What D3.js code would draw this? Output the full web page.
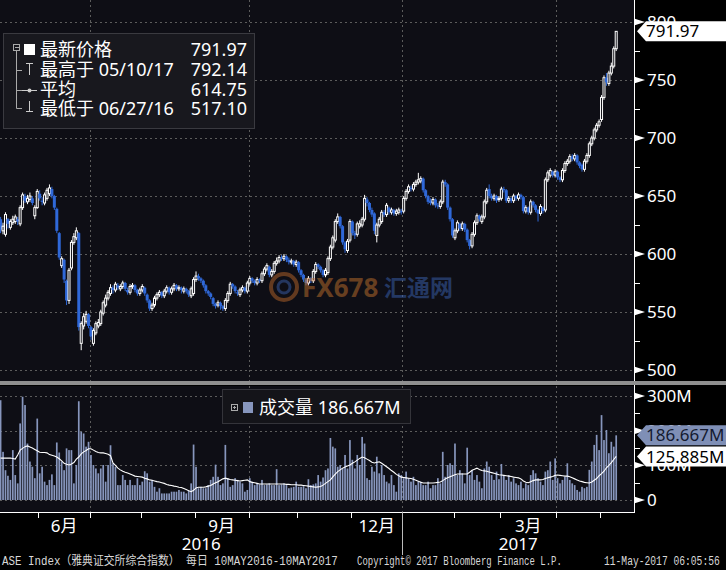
<!DOCTYPE html>
<html><head><meta charset="utf-8">
<script src="https://cdn.jsdelivr.net/npm/d3@7"></script>
<style>html,body{margin:0;padding:0;background:#000;}svg{display:block}</style>
</head><body><svg id="c" width="726" height="570"></svg>
<script>
// ---------- DATA ----------
const holidays = ["2016-06-20","2016-08-15","2016-10-28","2016-12-26","2017-01-06","2017-02-27","2017-04-14","2017-04-17","2017-05-01"];
const openP = [630,620,617,630,623,627,628,630,626,640,650,645,647,648,633,640,652,646,644,648,652,656,650,639,618,590,595,577,560,588,610,614,618,523,538,542,548,537,523,532,538,540,549,556,562,566,571,569,573,570,572,575,569,567,572,573,569,566,569,571,565,560,553,556,562,565,567,564,568,571,567,570,573,570,571,568,570,568,564,566,578,581,579,577,573,568,566,562,557,556,558,555,553,560,566,574,572,567,565,569,571,568,575,579,577,575,578,577,583,587,589,582,585,592,594,597,596,598,595,593,594,591,593,586,582,578,575,579,577,585,591,589,586,582,584,596,606,612,628,632,624,610,603,612,628,618,617,624,625,630,647,644,638,635,616,625,628,636,634,640,636,638,635,636,637,637,648,654,657,656,660,662,663,665,655,650,646,644,647,642,641,645,662,660,640,630,614,620,626,622,626,621,612,607,617,627,633,628,632,645,656,650,648,650,647,648,656,655,646,648,646,650,648,651,649,637,640,636,645,642,638,635,640,638,664,668,671,668,671,666,664,672,678,680,684,682,685,679,677,673,680,685,695,700,707,711,716,735,752,747,756,762,777];
const highP = [632,627,636,631,630,633,634,632,642,653,652,651,653,650,642,656,655,649,653,657,660,658,651,640,619,598,596,578,588,612,618,623,619,542,549,551,549,538,536,542,544,552,560,565,569,574,573,576,575,574,577,576,571,574,575,574,570,571,574,572,566,561,558,564,567,569,568,570,573,572,572,575,574,573,572,572,571,569,572,580,585,583,580,578,574,569,567,563,558,560,559,556,562,568,576,575,573,569,571,573,572,577,581,580,578,580,579,585,589,592,590,587,594,597,599,599,600,599,597,596,595,595,594,587,583,579,581,580,587,593,592,590,587,588,598,608,616,630,635,633,625,611,613,630,629,620,628,629,632,651,649,645,640,636,627,632,638,638,644,641,640,639,639,640,639,650,656,660,659,662,664,670,667,666,656,651,648,649,648,644,647,664,664,661,641,631,622,629,627,628,627,622,613,619,629,635,634,634,647,657,660,652,652,651,650,658,658,656,650,649,652,651,653,652,650,642,641,647,646,643,639,643,641,666,672,674,672,673,672,667,674,680,682,686,686,687,686,680,678,682,687,697,702,709,713,716,737,754,756,758,765,779,792.14];
const lowP = [618,617,615,622,621,625,626,625,624,638,644,643,645,642,630,639,646,642,642,646,650,648,638,618,595,588,575,556,557,586,608,612,534,517.1,535,540,536,526,521,530,536,538,547,554,560,564,566,567,569,568,570,568,565,565,570,567,564,564,567,564,558,551,551,554,560,563,562,562,566,565,565,568,568,568,566,566,566,563,562,564,576,577,575,571,566,564,561,555,553,554,552,551,551,558,564,570,566,564,563,567,566,566,573,575,573,573,575,575,581,585,580,580,583,590,592,594,594,593,591,591,589,589,584,580,576,573,573,575,575,583,587,584,580,580,582,594,604,610,626,622,608,601,601,610,616,613,615,622,623,628,641,636,632,617,610,623,626,632,632,634,634,633,633,634,634,635,646,652,654,654,658,660,661,653,648,643,642,642,640,639,639,643,658,638,628,614,612,618,620,620,619,610,604,605,615,625,628,626,630,643,648,646,646,644,645,646,653,644,644,644,644,646,646,647,635,635,634,634,640,636,628,633,635,636,662,666,666,666,664,662,662,670,676,678,680,680,677,674,671,671,678,683,693,698,705,709,714,733,745,745,754,760,775];
const closeP = [621,624,634,626,628,630,632,628,640,651,646,648,650,644,640,654,648,645,651,655,657,650,640,620,597,596,578,560,586,610,615,620,537,540,546,548,538,529,534,540,541,550,558,562,567,571,569,574,571,572,575,570,567,572,573,569,566,569,572,566,560,553,556,562,565,567,564,568,571,567,570,573,570,571,569,570,568,565,570,578,581,579,577,573,568,566,563,557,555,558,555,553,560,566,574,572,568,566,569,571,568,575,579,577,575,578,577,583,587,590,582,585,592,594,597,596,598,595,593,594,591,593,586,582,578,575,579,577,585,591,589,586,582,586,596,606,614,628,632,624,610,604,611,628,618,616,626,626,630,648,644,638,634,620,625,630,636,634,642,636,638,635,637,638,636,648,654,658,656,660,662,664,665,655,650,645,644,647,642,641,645,662,660,640,630,616,620,627,622,626,621,612,607,617,627,633,630,632,645,655,650,648,650,646,648,656,655,646,648,646,650,648,651,649,637,640,636,645,642,638,635,641,637,664,670,672,668,671,666,664,672,678,680,684,682,685,679,676,673,680,685,695,700,707,711,714,735,752,748,756,762,777,791.97];
const volume = [288,139,86,70,58,144,72,48,221,298,274,163,111,96,63,235,77,96,53,43,58,74,43,166,137,111,86,149,144,144,48,101,285,197,192,154,168,130,101,91,77,91,101,53,101,158,106,96,43,43,72,58,43,58,43,43,63,43,53,83,77,53,58,38,24,34,19,19,19,19,24,24,24,29,24,24,19,27,48,160,96,34,38,34,34,43,58,67,102,67,43,48,159,63,38,43,63,58,53,48,24,29,63,53,43,48,45,58,43,45,48,43,43,89,43,45,48,43,34,36,38,53,38,38,40,34,60,43,45,48,72,53,65,86,91,179,154,149,96,101,91,130,91,173,116,91,130,101,182,163,63,58,96,82,125,77,101,72,53,48,72,43,24,77,72,63,82,63,53,67,43,53,53,43,43,53,34,43,43,63,48,139,67,101,106,101,163,72,86,77,48,151,72,86,58,72,53,34,91,111,96,72,58,82,60,104,72,58,72,53,63,48,43,53,34,48,43,72,86,77,63,53,43,82,86,111,58,120,63,48,58,67,106,58,48,43,29,24,38,34,38,87,111,159,188,144,245,173,202,135,168,154,186.667];
const volumeMA = [121,121,121,121,121,120,118,130,144,149,154,156,153,150,146,142,138,137,137,136,131,129,127,124,119,113,106,103,101,104,108,118,124,133,139,143,148,148,144,140,137,136,136,134,132,128,107,100,92,87,83,80,78,75,72,69,68,67,66,63,61,58,57,55,53,52,50,48,45,43,42,40,39,37,36,33,30,27,24,28,35,37,37,37,38,40,42,46,50,53,57,61,63,61,59,58,57,56,55,56,57,58,53,51,50,48,46,46,46,46,46,46,46,46,46,46,46,45,45,44,44,44,43,43,42,41,40,39,38,37,38,39,43,48,53,58,67,75,82,87,92,95,98,101,106,110,115,120,124,122,118,114,109,107,109,110,106,101,96,91,85,80,74,70,66,65,64,63,62,60,57,54,51,49,49,49,49,49,50,51,52,56,61,64,67,70,73,75,75,75,75,75,80,86,89,92,88,85,84,83,81,79,77,75,73,72,71,70,69,68,66,65,64,61,55,51,50,53,56,58,58,58,59,62,64,66,68,71,72,71,70,69,69,67,64,61,58,55,53,51,50,49,52,57,62,70,76,83,93,100,108,117,125.885];
const priceTicks = [500,550,600,650,700,750,800];
const priceMinor = [525,575,625,675,725,775];
const volTicks = [0,100,200,300];
const volTickLabels = ["0","100M","200M","300M"];
const volMinor = [50,150,250];
const monthLabels = {5:"6月",8:"9月",11:"12月",2:"3月"};
const quarterMonths = [6,9,0,3];
const yearLabels = ["2016","2017"];
const legendLabels = ["最新价格","最高于 05/10/17","平均","最低于 06/27/16"];
const legendValues = ["791.97","792.14","614.75","517.10"];
const volLegendLabel = "成交量 186.667M";
const lastPriceLabel = "791.97", lastVolLabel = "186.667M", lastMALabel = "125.885M";
const footer = ["ASE Index（雅典证交所综合指数） 每日 10MAY2016-10MAY2017","Copyright© 2017 Bloomberg Finance L.P.","11-May-2017 06:05:56"];

// ---------- LAYOUT ----------
const N = closeP.length;
const plotR = 634;
const FONT = "'Noto Sans','Noto Sans CJK SC',sans-serif";
const svg = d3.select("#c");
const hol = new Set(holidays);
const dates = [];
for (let t = Date.UTC(2016,4,10); t <= Date.UTC(2017,4,10); t += 864e5) {
  const d = new Date(t), wd = d.getUTCDay();
  if (wd === 0 || wd === 6) continue;
  if (hol.has(d.toISOString().slice(0,10))) continue;
  dates.push(d);
}
const x = d3.scaleLinear().domain([0, N-1]).range([0.6, 616.2]);
const yP = d3.scaleLinear().domain([491.4, 819]).range([380, 0]);
const yV = d3.scaleLinear().domain([-34.6, 329]).range([512, 386]);

svg.append("rect").attr("width",726).attr("height",570).attr("fill","#000");
svg.append("rect").attr("x",0).attr("y",0).attr("width",plotR).attr("height",381).attr("fill","#0e0e15");
svg.append("rect").attr("x",0).attr("y",386).attr("width",plotR).attr("height",126).attr("fill","#0e0e15");

const defs = svg.append("defs");
defs.append("clipPath").attr("id","cp").append("rect").attr("x",0).attr("y",0).attr("width",plotR).attr("height",381);
defs.append("clipPath").attr("id","cv").append("rect").attr("x",0).attr("y",386).attr("width",plotR).attr("height",126);

// month boundaries
const bounds = [];
for (let i = 1; i < dates.length; i++) if (dates[i].getUTCMonth() !== dates[i-1].getUTCMonth()) bounds.push(i);
const bx = i => x(i - 0.5);

const grid = svg.append("g").attr("stroke","#5c5c5c").attr("stroke-dasharray","2,3").attr("stroke-width",1);
priceTicks.forEach(p => grid.append("line").attr("x1",0).attr("x2",plotR).attr("y1",Math.round(yP(p))+0.5).attr("y2",Math.round(yP(p))+0.5));
volTicks.forEach(v => grid.append("line").attr("x1",0).attr("x2",plotR).attr("y1",Math.round(yV(v))+0.5).attr("y2",Math.round(yV(v))+0.5));
bounds.filter(i => quarterMonths.includes(dates[i].getUTCMonth())).forEach(i => {
  const xx = Math.round(bx(i))+0.5;
  grid.append("line").attr("x1",xx).attr("x2",xx).attr("y1",0).attr("y2",381);
  grid.append("line").attr("x1",xx).attr("x2",xx).attr("y1",386).attr("y2",512);
});

// candles
const idx = d3.range(N);
const cg = svg.append("g").attr("clip-path","url(#cp)");
const UP = "#ffffff", DN = "#2f68d8";
cg.selectAll("line.w").data(idx).join("line")
  .attr("x1", i => x(i)).attr("x2", i => x(i))
  .attr("y1", i => yP(highP[i])).attr("y2", i => yP(lowP[i]))
  .attr("stroke", i => closeP[i] >= openP[i] ? UP : DN).attr("stroke-width",1);
cg.selectAll("rect.b").data(idx).join("rect")
  .attr("x", i => closeP[i] >= openP[i] ? x(i)-1 : x(i)-1.5)
  .attr("width", i => closeP[i] >= openP[i] ? 2 : 3)
  .attr("y", i => yP(Math.max(openP[i], closeP[i])))
  .attr("height", i => Math.max(1, Math.abs(yP(openP[i]) - yP(closeP[i]))))
  .attr("fill", i => closeP[i] >= openP[i] ? "#0e0e15" : DN)
  .attr("stroke", i => closeP[i] >= openP[i] ? UP : "none").attr("stroke-width",1);

// watermark
const wm = svg.append("g").attr("opacity",0.5);
wm.append("circle").attr("cx",284).attr("cy",287).attr("r",13).attr("fill","none").attr("stroke","#b8662a").attr("stroke-width",4);
wm.append("circle").attr("cx",284).attr("cy",287).attr("r",6).attr("fill","none").attr("stroke","#3a5fa8").attr("stroke-width",3);
wm.append("text").attr("x",302).attr("y",297).attr("font-family",FONT).attr("font-weight","bold").attr("font-size",26).attr("fill","#c0702c").text("FX678");
wm.append("text").attr("x",384).attr("y",296).attr("font-family",FONT).attr("font-weight","bold").attr("font-size",23).attr("fill","#3a62b0").text("汇通网");

// volume
const vg = svg.append("g").attr("clip-path","url(#cv)");
vg.selectAll("rect").data(idx).join("rect")
  .attr("x", i => x(i)-0.85).attr("width",1.7)
  .attr("y", i => yV(volume[i])).attr("height", i => yV(0) - yV(volume[i]))
  .attr("fill","#8796bd");
vg.append("path").datum(idx).attr("fill","none").attr("stroke","#fff").attr("stroke-width",1.1)
  .attr("d", d3.line().x(i => x(i)).y(i => yV(volumeMA[i])));

// separator and borders
svg.append("rect").attr("x",0).attr("y",381).attr("width",726).attr("height",4).attr("fill","#8f8f8f");
svg.append("line").attr("x1",plotR+0.5).attr("x2",plotR+0.5).attr("y1",0).attr("y2",381).attr("stroke","#fff");
svg.append("line").attr("x1",plotR+0.5).attr("x2",plotR+0.5).attr("y1",385).attr("y2",513).attr("stroke","#fff");
svg.append("line").attr("x1",0).attr("x2",plotR+1).attr("y1",512.5).attr("y2",512.5).attr("stroke","#fff");

// right axes
const ax = svg.append("g");
function majorTick(y){ ax.append("path").attr("d",`M${plotR},${y-3.5}L${plotR+11},${y}L${plotR},${y+3.5}Z`).attr("fill","#fff"); }
function minorTick(y){ ax.append("line").attr("x1",plotR).attr("x2",plotR+6).attr("y1",Math.round(y)+0.5).attr("y2",Math.round(y)+0.5).attr("stroke","#fff"); }
priceTicks.forEach(p => { const y = yP(p); majorTick(y);
  ax.append("text").attr("x",647).attr("y",y).attr("dy","0.36em").attr("font-family",FONT).attr("font-size",17).attr("fill","#fff").text(p); });
priceMinor.forEach(p => minorTick(yP(p)));
volTicks.forEach((v,k) => { const y = yV(v); majorTick(y);
  ax.append("text").attr("x",647).attr("y",y).attr("dy","0.36em").attr("font-family",FONT).attr("font-size",17).attr("fill","#fff").text(volTickLabels[k]); });
volMinor.forEach(v => minorTick(yV(v)));

function valueBox(y, label, bg, fg){
  const g = svg.append("g");
  g.append("path").attr("d",`M637,${y}L646,${y-10}L726,${y-10}L726,${y+10}L646,${y+10}Z`).attr("fill",bg);
  g.append("text").attr("x",646).attr("y",y).attr("dy","0.36em").attr("font-family",FONT).attr("font-size",17).attr("fill",fg).text(label);
}
valueBox(yP(closeP[N-1]), lastPriceLabel, "#ffffff", "#000");
valueBox(yV(volume[N-1]), lastVolLabel, "#7f8fb6", "#141a30");
valueBox(yV(volumeMA[N-1]), lastMALabel, "#ffffff", "#000");

// x axis
const xa = svg.append("g");
bounds.forEach(i => { const xx = Math.round(bx(i))+0.5;
  xa.append("line").attr("x1",xx).attr("x2",xx).attr("y1",512).attr("y2", dates[i].getUTCMonth()===0 ? 555 : 518).attr("stroke", dates[i].getUTCMonth()===0 ? "#bbb" : "#fff"); });
const bAll = [0, ...bounds, N];
for (let k = 0; k < bAll.length-1; k++) {
  const m = dates[bAll[k]].getUTCMonth();
  if (monthLabels[m] === undefined || k === 0) continue;
  const cx = (bx(bAll[k]) + bx(bAll[k+1])) / 2;
  xa.append("text").attr("x",cx).attr("y",532).attr("text-anchor","middle").attr("font-family",FONT).attr("font-size",17).attr("fill","#fff").text(monthLabels[m]);
}
const janB = bounds.find(i => dates[i].getUTCMonth() === 0);
[[0, bx(janB)], [bx(janB), plotR]].forEach((r,k) =>
  xa.append("text").attr("x",(r[0]+r[1])/2).attr("y",550).attr("text-anchor","middle").attr("font-family",FONT).attr("font-size",17).attr("fill","#fff").text(yearLabels[k]));

// price legend
const lg = svg.append("g");
lg.append("rect").attr("x",3.5).attr("y",33.5).attr("width",251).attr("height",95).attr("fill","#18181e").attr("stroke","#3a3a40");
const rowY = [50,70,90,109];
lg.append("rect").attr("x",13.5).attr("y",44.5).attr("width",6).attr("height",6).attr("fill","none").attr("stroke","#aaa");
lg.append("line").attr("x1",15).attr("x2",19).attr("y1",47.5).attr("y2",47.5).attr("stroke","#aaa");
lg.append("rect").attr("x",24).attr("y",44).attr("width",11).attr("height",11).attr("fill","#fff");
lg.append("path").attr("d","M16.5,51V108.5H22M16.5,70.5H22M16.5,90.5H22").attr("fill","none").attr("stroke","#aaa");
lg.append("path").attr("d","M26,63.5H33M29.5,63V75").attr("stroke","#ccc").attr("fill","none");
lg.append("path").attr("d","M22,90.5H37").attr("stroke","#ccc");
lg.append("circle").attr("cx",29.5).attr("cy",90.5).attr("r",2).attr("fill","#ccc");
lg.append("path").attr("d","M29.5,101V112M26,111.5H33").attr("stroke","#ccc").attr("fill","none");
legendLabels.forEach((t,k) => {
  lg.append("text").attr("x",40).attr("y",rowY[k]).attr("dy","0.36em").attr("font-family",FONT).attr("font-size",18).attr("fill","#fff").text(t);
  lg.append("text").attr("x",247).attr("y",rowY[k]).attr("dy","0.36em").attr("text-anchor","end").attr("font-family",FONT).attr("font-size",18).attr("fill","#fff").text(legendValues[k]);
});

// volume legend
const vl = svg.append("g");
vl.append("rect").attr("x",222.5).attr("y",389.5).attr("width",188).attr("height",34).attr("fill","#141419").attr("stroke","#34343a");
vl.append("rect").attr("x",231.5).attr("y",404.5).attr("width",6).attr("height",6).attr("fill","none").attr("stroke","#aaa");
vl.append("path").attr("d","M233,407.5H236M234.5,406V409").attr("stroke","#aaa");
vl.append("rect").attr("x",243).attr("y",402).attr("width",10).attr("height",11).attr("fill","#8796bd");
vl.append("text").attr("x",259).attr("y",408).attr("dy","0.36em").attr("font-family",FONT).attr("font-size",18).attr("fill","#fff").text(volLegendLabel);

// footer: each piece scaled horizontally to fit its slot
const fx = [[2,336],[357,205],[604,116]];
footer.forEach((t,k) => {
  const g = svg.append("g");
  const tx = g.append("text").attr("x",0).attr("y",0).attr("font-family","'Liberation Mono','Noto Sans CJK SC',monospace").attr("font-size",12)
    .attr("fill","#d8d8d8").text(t);
  const w = tx.node().getComputedTextLength();
  g.attr("transform",`translate(${fx[k][0]},565) scale(${fx[k][1]/w},1)`);
});
</script></body></html>
